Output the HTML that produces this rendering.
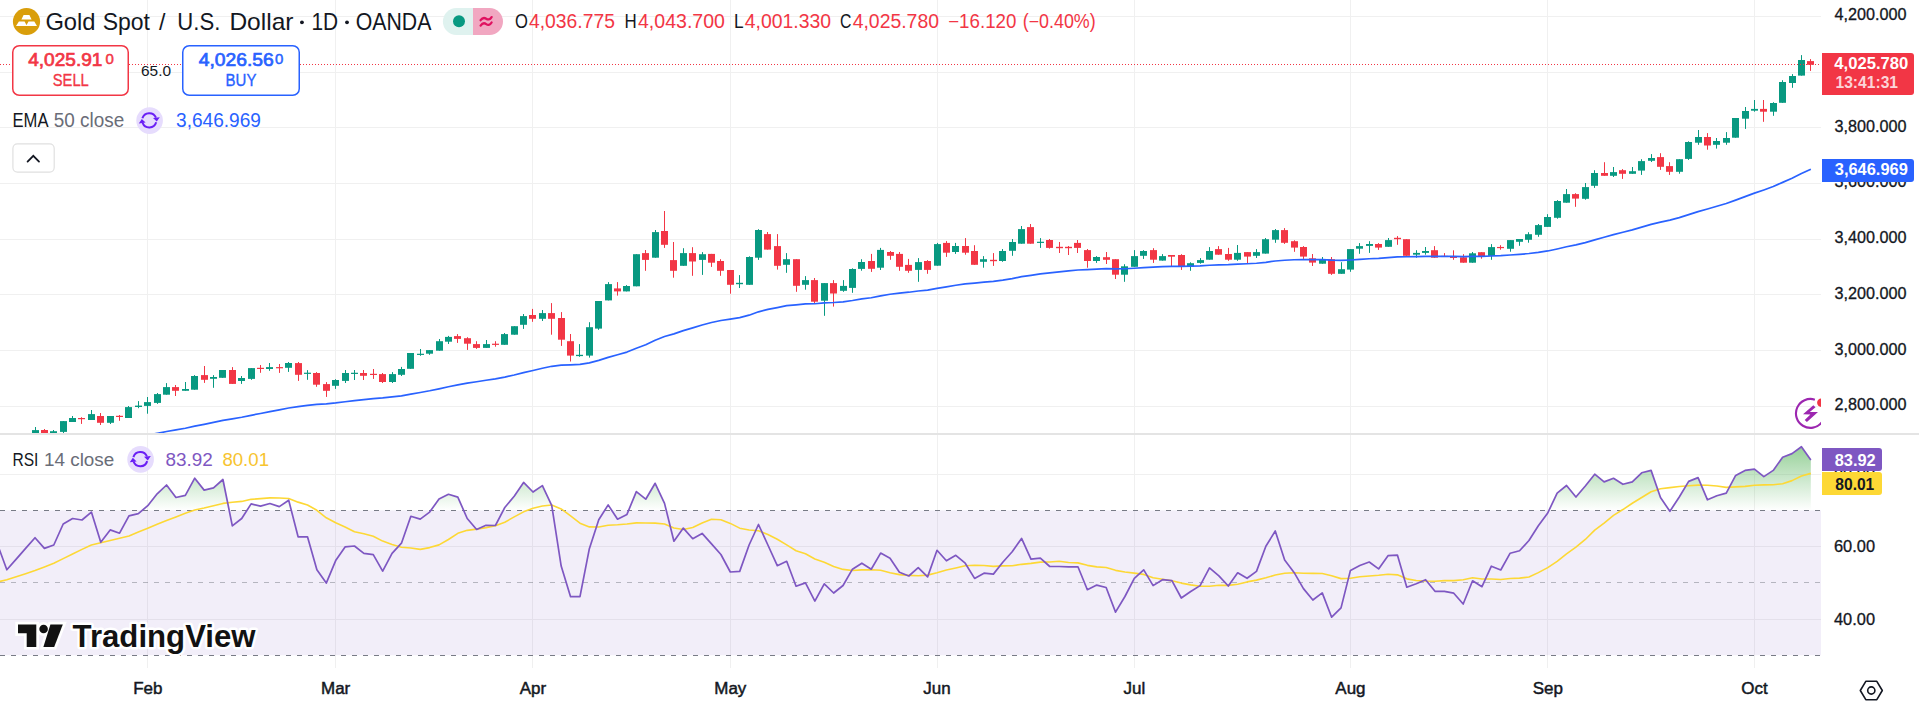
<!DOCTYPE html>
<html><head><meta charset="utf-8"><style>
html,body{margin:0;padding:0;background:#ffffff;width:1919px;height:710px;overflow:hidden}
svg{display:block}
text{font-family:"Liberation Sans",sans-serif}
</style></head><body>
<svg width="1919" height="710" viewBox="0 0 1919 710">
<rect width="1919" height="710" fill="#ffffff"/>
<g fill="#f0f0f0">
<rect x="0" y="16" width="1821" height="1"/>
<rect x="0" y="72" width="1821" height="1"/>
<rect x="0" y="127" width="1821" height="1"/>
<rect x="0" y="183" width="1821" height="1"/>
<rect x="0" y="239" width="1821" height="1"/>
<rect x="0" y="294" width="1821" height="1"/>
<rect x="0" y="350" width="1821" height="1"/>
<rect x="0" y="406" width="1821" height="1"/>
<rect x="0" y="474" width="1821" height="1"/>
<rect x="0" y="546" width="1821" height="1"/>
<rect x="0" y="619" width="1821" height="1"/>
<rect x="147" y="0" width="1" height="668"/>
<rect x="335" y="0" width="1" height="668"/>
<rect x="532" y="0" width="1" height="668"/>
<rect x="730" y="0" width="1" height="668"/>
<rect x="937" y="0" width="1" height="668"/>
<rect x="1134" y="0" width="1" height="668"/>
<rect x="1350" y="0" width="1" height="668"/>
<rect x="1547" y="0" width="1" height="668"/>
<rect x="1754" y="0" width="1" height="668"/>
</g>
<rect x="0" y="510.4" width="1821" height="144.8" fill="rgba(126,87,194,0.1)"/>
<defs><linearGradient id="ob" gradientUnits="userSpaceOnUse" x1="0" y1="401.8" x2="0" y2="510.4"><stop offset="0" stop-color="#4caf50" stop-opacity="1"/><stop offset="1" stop-color="#4caf50" stop-opacity="0"/></linearGradient>
<clipPath id="obclip"><rect x="0" y="434" width="1821" height="76.4"/></clipPath>
<clipPath id="rsiclip"><rect x="0" y="434" width="1821" height="234"/></clipPath>
<clipPath id="mainclip"><rect x="0" y="0" width="1821" height="433"/></clipPath></defs>
<g clip-path="url(#obclip)"><polygon points="-2.57,510.4 -2.57,544.1 6.82,569.8 16.22,559.1 25.61,548.4 35.01,537.7 44.41,548.4 53.8,545 63.2,524 72.59,518.5 81.99,520 91.39,512.1 100.78,542.3 110.18,529.9 119.57,533.2 128.97,515.8 138.36,513.6 147.76,505.7 157.16,493.8 166.55,485 175.95,497.5 185.34,495.3 194.74,478.2 204.14,490.1 213.53,487.9 222.93,479.5 232.32,525.8 241.72,518.5 251.11,503.9 260.51,506.1 269.91,503.5 279.3,506.6 288.7,500.2 298.09,536.8 307.49,536.8 316.89,569.8 326.28,583.1 335.68,560.6 345.07,546.9 354.47,546 363.86,553.3 373.26,554.6 382.66,571.2 392.05,553.3 401.45,543.2 410.84,516.3 420.24,519.1 429.64,512.1 439.03,498.9 448.43,494.3 457.82,497.1 467.22,518.5 476.61,529.5 486.01,525.3 495.41,525.5 504.8,507.5 514.2,496.2 523.59,482.4 532.99,492 542.39,485.6 551.78,505.7 561.18,566.1 570.57,596.7 579.97,596.7 589.36,548.7 598.76,519.8 608.16,504.9 617.55,519.2 626.95,514.4 636.34,491.6 645.74,499.2 655.14,483.3 664.53,503.4 673.93,541.2 683.32,528.1 692.72,538.7 702.11,533.4 711.51,543.9 720.91,554.5 730.3,572 739.7,571.4 749.09,545 758.49,524.5 767.89,545 777.28,565.7 786.68,561.3 796.07,586.2 805.47,582.9 814.86,601.1 824.26,583.8 833.66,593 843.05,585.5 852.45,569.2 861.84,563.2 871.24,569.2 880.64,553.1 890.03,558.2 899.43,572.3 908.82,576 918.22,567.7 927.61,576.9 937.01,550.3 946.41,560.8 955.8,555.3 965.2,563.2 974.59,578.4 983.99,573.2 993.39,574.1 1002.78,562.2 1012.18,551.8 1021.57,538.4 1030.97,559.1 1040.36,558.2 1049.76,566.5 1059.16,566.5 1068.55,566.8 1077.95,566.8 1087.34,589.7 1096.74,585.1 1106.14,587.5 1115.53,612.1 1124.93,596.5 1134.32,578.3 1143.72,569.9 1153.11,585.6 1162.51,579.7 1171.91,580.7 1181.3,598 1190.7,591.5 1200.09,585.6 1209.49,567.9 1218.89,575.8 1228.28,586 1237.68,572.8 1247.07,578.3 1256.47,571.4 1265.86,546.2 1275.26,531 1284.66,560 1294.05,572.4 1303.45,588.6 1312.84,600 1322.24,592.9 1331.64,617.2 1341.03,607.9 1350.43,570.4 1359.82,565.5 1369.22,562 1378.61,568.9 1388.01,555.7 1397.41,555.1 1406.8,587.2 1416.2,583.7 1425.59,579.7 1434.99,591.3 1444.39,591.3 1453.78,593.2 1463.18,604 1472.57,580.8 1481.97,586.7 1491.36,566.2 1500.76,570 1510.16,553.2 1519.55,550.8 1528.95,540.5 1538.34,525.7 1547.74,513 1557.14,493.1 1566.53,485.5 1575.93,497 1585.32,486 1594.72,474.2 1604.11,481.9 1613.51,478.3 1622.91,484.3 1632.3,481.9 1641.7,472.8 1651.09,470.4 1660.49,497.5 1669.89,511.3 1679.28,497 1688.68,481.4 1698.07,477.6 1707.47,499.8 1716.86,495.8 1726.26,493.1 1735.66,475.4 1745.05,470.4 1754.45,469.2 1763.84,476.6 1773.24,470.4 1782.64,457.2 1792.03,453.6 1801.43,446.7 1810.82,459.9 1810.82,510.4" fill="url(#ob)"/></g>
<g clip-path="url(#rsiclip)">
<line x1="0" y1="510.5" x2="1821" y2="510.5" stroke="#787b86" stroke-width="1" stroke-dasharray="5 6"/>
<line x1="0" y1="582.5" x2="1821" y2="582.5" stroke="rgba(120,123,134,0.5)" stroke-width="1" stroke-dasharray="5 6"/>
<line x1="0" y1="655.5" x2="1821" y2="655.5" stroke="#787b86" stroke-width="1" stroke-dasharray="5 6"/>
<polyline points="-2.57,582 6.82,579.79 16.22,576.74 25.61,573.69 35.01,570.58 44.41,566.91 53.8,563.24 63.2,558.6 72.59,553.96 81.99,549.38 91.39,545.05 100.78,542.75 110.18,540.47 119.57,538.19 128.97,535.91 138.36,532 147.76,528.19 157.16,524.29 166.55,520.52 175.95,516.89 185.34,513.34 194.74,510.06 204.14,508.04 213.53,505.74 222.93,503.41 232.32,502.24 241.72,501.42 251.11,499.33 260.51,498.64 269.91,497.91 279.3,497.98 288.7,498.44 298.09,502.14 307.49,504.94 316.89,510.26 326.28,517.76 335.68,522.79 345.07,527.01 354.47,531.76 363.86,533.72 373.26,536.3 382.66,541.11 392.05,544.48 401.45,547.31 410.84,548.01 420.24,549.36 429.64,547.59 439.03,544.89 448.43,539.49 457.82,533.35 467.22,530.34 476.61,529.1 486.01,527.62 495.41,525.64 504.8,522.27 514.2,516.91 523.59,511.85 532.99,508.19 542.39,506 551.78,505.04 561.18,508.9 570.57,515.89 579.97,523.2 589.36,526.89 598.76,526.98 608.16,525.22 617.55,524.79 626.95,523.99 636.34,522.86 645.74,523.07 655.14,523.14 664.53,523.95 673.93,527.92 683.32,529.52 692.72,527.56 702.11,523.04 711.51,519.27 720.91,519.69 730.3,523.41 739.7,528.16 749.09,530.01 758.49,530.73 767.89,534.54 777.28,539.29 786.68,544.86 796.07,550.78 805.47,553.76 814.86,558.97 824.26,562.19 833.66,566.45 843.05,569.42 852.45,570.47 861.84,569.84 871.24,569.69 880.64,570.26 890.03,572.67 899.43,574.62 908.82,575.36 918.22,575.81 927.61,575.15 937.01,572.82 946.41,569.94 955.8,567.91 965.2,565.78 974.59,565.27 983.99,565.56 993.39,566.34 1002.78,565.84 1012.18,565.74 1021.57,564.33 1030.97,563.39 1040.36,562.11 1049.76,562.03 1059.16,561.29 1068.55,562.46 1077.95,562.89 1087.34,565.35 1096.74,566.91 1106.14,567.56 1115.53,570.34 1124.93,571.94 1134.32,573.09 1143.72,574.39 1153.11,577.76 1162.51,579.23 1171.91,580.84 1181.3,583.09 1190.7,584.87 1200.09,586.21 1209.49,586.29 1218.89,585.3 1228.28,585.36 1237.68,584.31 1247.07,581.9 1256.47,580.11 1265.86,577.81 1275.26,575.04 1284.66,573.21 1294.05,572.69 1303.45,573.25 1312.84,573.39 1322.24,573.49 1331.64,575.75 1341.03,578.61 1350.43,578.22 1359.82,576.76 1369.22,575.99 1378.61,575.31 1388.01,574.19 1397.41,574.83 1406.8,578.84 1416.2,580.54 1425.59,581.06 1434.99,581.25 1444.39,580.63 1453.78,580.65 1463.18,579.71 1472.57,577.77 1481.97,578.94 1491.36,578.99 1500.76,579.56 1510.16,578.44 1519.55,578.09 1528.95,577.04 1538.34,572.65 1547.74,567.6 1557.14,561.41 1566.53,553.86 1575.93,547.12 1585.32,539.46 1594.72,530.19 1604.11,523.13 1613.51,515.39 1622.91,509.54 1632.3,503.24 1641.7,497.5 1651.09,491.76 1660.49,488.69 1669.89,487.66 1679.28,486.51 1688.68,485.68 1698.07,485.11 1707.47,485.31 1716.86,486.01 1726.26,487.36 1735.66,486.9 1745.05,486.34 1754.45,485.26 1763.84,484.88 1773.24,484.71 1782.64,483.76 1792.03,480.63 1801.43,476.01 1810.82,473.36" fill="none" stroke="#fdd835" stroke-width="1.6" stroke-linejoin="round"/>
<polyline points="-2.57,544.1 6.82,569.8 16.22,559.1 25.61,548.4 35.01,537.7 44.41,548.4 53.8,545 63.2,524 72.59,518.5 81.99,520 91.39,512.1 100.78,542.3 110.18,529.9 119.57,533.2 128.97,515.8 138.36,513.6 147.76,505.7 157.16,493.8 166.55,485 175.95,497.5 185.34,495.3 194.74,478.2 204.14,490.1 213.53,487.9 222.93,479.5 232.32,525.8 241.72,518.5 251.11,503.9 260.51,506.1 269.91,503.5 279.3,506.6 288.7,500.2 298.09,536.8 307.49,536.8 316.89,569.8 326.28,583.1 335.68,560.6 345.07,546.9 354.47,546 363.86,553.3 373.26,554.6 382.66,571.2 392.05,553.3 401.45,543.2 410.84,516.3 420.24,519.1 429.64,512.1 439.03,498.9 448.43,494.3 457.82,497.1 467.22,518.5 476.61,529.5 486.01,525.3 495.41,525.5 504.8,507.5 514.2,496.2 523.59,482.4 532.99,492 542.39,485.6 551.78,505.7 561.18,566.1 570.57,596.7 579.97,596.7 589.36,548.7 598.76,519.8 608.16,504.9 617.55,519.2 626.95,514.4 636.34,491.6 645.74,499.2 655.14,483.3 664.53,503.4 673.93,541.2 683.32,528.1 692.72,538.7 702.11,533.4 711.51,543.9 720.91,554.5 730.3,572 739.7,571.4 749.09,545 758.49,524.5 767.89,545 777.28,565.7 786.68,561.3 796.07,586.2 805.47,582.9 814.86,601.1 824.26,583.8 833.66,593 843.05,585.5 852.45,569.2 861.84,563.2 871.24,569.2 880.64,553.1 890.03,558.2 899.43,572.3 908.82,576 918.22,567.7 927.61,576.9 937.01,550.3 946.41,560.8 955.8,555.3 965.2,563.2 974.59,578.4 983.99,573.2 993.39,574.1 1002.78,562.2 1012.18,551.8 1021.57,538.4 1030.97,559.1 1040.36,558.2 1049.76,566.5 1059.16,566.5 1068.55,566.8 1077.95,566.8 1087.34,589.7 1096.74,585.1 1106.14,587.5 1115.53,612.1 1124.93,596.5 1134.32,578.3 1143.72,569.9 1153.11,585.6 1162.51,579.7 1171.91,580.7 1181.3,598 1190.7,591.5 1200.09,585.6 1209.49,567.9 1218.89,575.8 1228.28,586 1237.68,572.8 1247.07,578.3 1256.47,571.4 1265.86,546.2 1275.26,531 1284.66,560 1294.05,572.4 1303.45,588.6 1312.84,600 1322.24,592.9 1331.64,617.2 1341.03,607.9 1350.43,570.4 1359.82,565.5 1369.22,562 1378.61,568.9 1388.01,555.7 1397.41,555.1 1406.8,587.2 1416.2,583.7 1425.59,579.7 1434.99,591.3 1444.39,591.3 1453.78,593.2 1463.18,604 1472.57,580.8 1481.97,586.7 1491.36,566.2 1500.76,570 1510.16,553.2 1519.55,550.8 1528.95,540.5 1538.34,525.7 1547.74,513 1557.14,493.1 1566.53,485.5 1575.93,497 1585.32,486 1594.72,474.2 1604.11,481.9 1613.51,478.3 1622.91,484.3 1632.3,481.9 1641.7,472.8 1651.09,470.4 1660.49,497.5 1669.89,511.3 1679.28,497 1688.68,481.4 1698.07,477.6 1707.47,499.8 1716.86,495.8 1726.26,493.1 1735.66,475.4 1745.05,470.4 1754.45,469.2 1763.84,476.6 1773.24,470.4 1782.64,457.2 1792.03,453.6 1801.43,446.7 1810.82,459.9" fill="none" stroke="#7e57c2" stroke-width="1.7" stroke-linejoin="round"/>
</g>
<g clip-path="url(#mainclip)">
<rect x="35" y="427" width="1" height="11" fill="#089981"/>
<rect x="32" y="430.1" width="7" height="5.9" fill="#089981"/>
<rect x="44" y="429" width="1" height="7" fill="#f23645"/>
<rect x="41" y="430" width="7" height="3.3" fill="#f23645"/>
<rect x="53" y="430" width="1" height="6" fill="#089981"/>
<rect x="50" y="431.2" width="7" height="2.8" fill="#089981"/>
<rect x="63" y="421" width="1" height="12" fill="#089981"/>
<rect x="60" y="421.1" width="7" height="10.8" fill="#089981"/>
<rect x="72" y="416" width="1" height="6" fill="#089981"/>
<rect x="69" y="418" width="7" height="4" fill="#089981"/>
<rect x="81" y="417.2" width="1" height="6.7" fill="#f23645"/>
<rect x="78" y="418" width="7" height="1.2" fill="#f23645"/>
<rect x="91" y="410" width="1" height="10" fill="#089981"/>
<rect x="88" y="414.1" width="7" height="5.9" fill="#089981"/>
<rect x="100" y="413" width="1" height="12" fill="#f23645"/>
<rect x="97" y="416" width="7" height="6.8" fill="#f23645"/>
<rect x="110" y="416" width="1" height="8" fill="#089981"/>
<rect x="107" y="416" width="7" height="6.8" fill="#089981"/>
<rect x="119" y="415" width="1" height="5.8" fill="#f23645"/>
<rect x="116" y="415.8" width="7" height="1.2" fill="#f23645"/>
<rect x="128" y="406" width="1" height="12" fill="#089981"/>
<rect x="125" y="407.1" width="7" height="10.9" fill="#089981"/>
<rect x="138" y="401.1" width="1" height="7.1" fill="#089981"/>
<rect x="135" y="405.6" width="7" height="1.4" fill="#089981"/>
<rect x="147" y="397" width="1" height="16.7" fill="#089981"/>
<rect x="144" y="402.1" width="7" height="3.8" fill="#089981"/>
<rect x="157" y="393" width="1" height="10.9" fill="#089981"/>
<rect x="154" y="394.1" width="7" height="8.8" fill="#089981"/>
<rect x="166" y="383.1" width="1" height="11.6" fill="#089981"/>
<rect x="163" y="387.1" width="7" height="7.6" fill="#089981"/>
<rect x="175" y="385" width="1" height="11" fill="#f23645"/>
<rect x="172" y="387.1" width="7" height="3.7" fill="#f23645"/>
<rect x="185" y="382" width="1" height="8.8" fill="#089981"/>
<rect x="182" y="389" width="7" height="1.8" fill="#089981"/>
<rect x="194" y="375.1" width="1" height="14.6" fill="#089981"/>
<rect x="191" y="376" width="7" height="13.7" fill="#089981"/>
<rect x="204" y="366" width="1" height="16.9" fill="#f23645"/>
<rect x="201" y="375.1" width="7" height="4.7" fill="#f23645"/>
<rect x="213" y="375.1" width="1" height="12.7" fill="#089981"/>
<rect x="210" y="377" width="7" height="1.8" fill="#089981"/>
<rect x="222" y="370" width="1" height="7.8" fill="#089981"/>
<rect x="219" y="370" width="7" height="7.8" fill="#089981"/>
<rect x="232" y="367.1" width="1" height="16.8" fill="#f23645"/>
<rect x="229" y="370" width="7" height="13.9" fill="#f23645"/>
<rect x="241" y="376" width="1" height="7.9" fill="#089981"/>
<rect x="238" y="378" width="7" height="3" fill="#089981"/>
<rect x="251" y="368.1" width="1" height="11.7" fill="#089981"/>
<rect x="248" y="368.1" width="7" height="10.8" fill="#089981"/>
<rect x="260" y="365" width="1" height="7.8" fill="#f23645"/>
<rect x="257" y="367.8" width="7" height="1.2" fill="#f23645"/>
<rect x="269" y="363" width="1" height="7.8" fill="#089981"/>
<rect x="266" y="367.1" width="7" height="1.9" fill="#089981"/>
<rect x="279" y="364" width="1" height="8.9" fill="#f23645"/>
<rect x="276" y="367.1" width="7" height="1.2" fill="#f23645"/>
<rect x="288" y="362" width="1" height="9.9" fill="#089981"/>
<rect x="285" y="363" width="7" height="4.8" fill="#089981"/>
<rect x="298" y="362" width="1" height="18.9" fill="#f23645"/>
<rect x="295" y="363.1" width="7" height="11.7" fill="#f23645"/>
<rect x="307" y="370.1" width="1" height="9.7" fill="#089981"/>
<rect x="304" y="372.7" width="7" height="1.2" fill="#089981"/>
<rect x="316" y="372.1" width="1" height="14.7" fill="#f23645"/>
<rect x="313" y="373" width="7" height="11.7" fill="#f23645"/>
<rect x="326" y="382.1" width="1" height="14.8" fill="#f23645"/>
<rect x="323" y="384.1" width="7" height="6.7" fill="#f23645"/>
<rect x="335" y="379.2" width="1" height="9.7" fill="#089981"/>
<rect x="332" y="380" width="7" height="5.8" fill="#089981"/>
<rect x="345" y="370" width="1" height="13" fill="#089981"/>
<rect x="342" y="373" width="7" height="7.9" fill="#089981"/>
<rect x="354" y="370" width="1" height="10" fill="#089981"/>
<rect x="351" y="372.75" width="7" height="1.2" fill="#089981"/>
<rect x="363" y="370" width="1" height="10" fill="#f23645"/>
<rect x="360" y="373" width="7" height="2.8" fill="#f23645"/>
<rect x="373" y="369" width="1" height="9.9" fill="#f23645"/>
<rect x="370" y="373.8" width="7" height="1.2" fill="#f23645"/>
<rect x="382" y="373" width="1" height="10" fill="#f23645"/>
<rect x="379" y="374.1" width="7" height="7.9" fill="#f23645"/>
<rect x="392" y="372.1" width="1" height="10.9" fill="#089981"/>
<rect x="389" y="374.1" width="7" height="7.9" fill="#089981"/>
<rect x="401" y="366.9" width="1" height="9.1" fill="#089981"/>
<rect x="398" y="369" width="7" height="5.8" fill="#089981"/>
<rect x="410" y="353" width="1" height="15.8" fill="#089981"/>
<rect x="407" y="353" width="7" height="15.8" fill="#089981"/>
<rect x="420" y="349" width="1" height="6.8" fill="#089981"/>
<rect x="417" y="353.75" width="7" height="1.2" fill="#089981"/>
<rect x="429" y="350.1" width="1" height="4.7" fill="#089981"/>
<rect x="426" y="350.1" width="7" height="3.6" fill="#089981"/>
<rect x="439" y="339" width="1" height="11.7" fill="#089981"/>
<rect x="436" y="341.2" width="7" height="9.5" fill="#089981"/>
<rect x="448" y="335.9" width="1" height="8.1" fill="#089981"/>
<rect x="445" y="336.9" width="7" height="4.8" fill="#089981"/>
<rect x="457" y="334.1" width="1" height="8.8" fill="#f23645"/>
<rect x="454" y="336.1" width="7" height="2.8" fill="#f23645"/>
<rect x="467" y="337.2" width="1" height="12.7" fill="#f23645"/>
<rect x="464" y="338.2" width="7" height="5.5" fill="#f23645"/>
<rect x="476" y="341.2" width="1" height="7.7" fill="#f23645"/>
<rect x="473" y="344.1" width="7" height="3.8" fill="#f23645"/>
<rect x="486" y="340" width="1" height="7.9" fill="#089981"/>
<rect x="483" y="344.1" width="7" height="3.8" fill="#089981"/>
<rect x="495" y="341.2" width="1" height="5.5" fill="#f23645"/>
<rect x="492" y="343.7" width="7" height="1.2" fill="#f23645"/>
<rect x="504" y="333" width="1" height="11.8" fill="#089981"/>
<rect x="501" y="334.1" width="7" height="10.7" fill="#089981"/>
<rect x="514" y="326.2" width="1" height="8.5" fill="#089981"/>
<rect x="511" y="326.2" width="7" height="8.5" fill="#089981"/>
<rect x="523" y="314" width="1" height="14.9" fill="#089981"/>
<rect x="520" y="316.1" width="7" height="8.7" fill="#089981"/>
<rect x="532" y="308.9" width="1" height="12.9" fill="#f23645"/>
<rect x="529" y="315" width="7" height="3.8" fill="#f23645"/>
<rect x="542" y="310" width="1" height="11" fill="#089981"/>
<rect x="539" y="313.1" width="7" height="5.7" fill="#089981"/>
<rect x="551" y="303.1" width="1" height="31.6" fill="#f23645"/>
<rect x="548" y="313.1" width="7" height="5.7" fill="#f23645"/>
<rect x="561" y="312.1" width="1" height="33.8" fill="#f23645"/>
<rect x="558" y="318" width="7" height="21.7" fill="#f23645"/>
<rect x="570" y="334" width="1" height="27.5" fill="#f23645"/>
<rect x="567" y="341.2" width="7" height="14.4" fill="#f23645"/>
<rect x="579" y="344.1" width="1" height="12.7" fill="#089981"/>
<rect x="576" y="354.8" width="7" height="1.3" fill="#089981"/>
<rect x="589" y="322.2" width="1" height="35.4" fill="#089981"/>
<rect x="586" y="327.2" width="7" height="28.4" fill="#089981"/>
<rect x="598" y="301" width="1" height="28.8" fill="#089981"/>
<rect x="595" y="301" width="7" height="27.6" fill="#089981"/>
<rect x="608" y="282.1" width="1" height="18.3" fill="#089981"/>
<rect x="605" y="284.1" width="7" height="16.3" fill="#089981"/>
<rect x="617" y="282.1" width="1" height="13.5" fill="#f23645"/>
<rect x="614" y="288.4" width="7" height="3" fill="#f23645"/>
<rect x="626" y="285.1" width="1" height="6.3" fill="#089981"/>
<rect x="623" y="286" width="7" height="5.4" fill="#089981"/>
<rect x="636" y="254.2" width="1" height="32.1" fill="#089981"/>
<rect x="633" y="254.2" width="7" height="32.1" fill="#089981"/>
<rect x="645" y="250" width="1" height="20.8" fill="#f23645"/>
<rect x="642" y="253.1" width="7" height="6.8" fill="#f23645"/>
<rect x="655" y="230" width="1" height="27.7" fill="#089981"/>
<rect x="652" y="232.1" width="7" height="25.6" fill="#089981"/>
<rect x="664" y="211" width="1" height="36.9" fill="#f23645"/>
<rect x="661" y="231" width="7" height="13.8" fill="#f23645"/>
<rect x="673" y="242" width="1" height="35.7" fill="#f23645"/>
<rect x="670" y="260.1" width="7" height="10.7" fill="#f23645"/>
<rect x="683" y="248.2" width="1" height="17.6" fill="#089981"/>
<rect x="680" y="253.1" width="7" height="12.7" fill="#089981"/>
<rect x="692" y="247.2" width="1" height="28.6" fill="#f23645"/>
<rect x="689" y="253.1" width="7" height="8.4" fill="#f23645"/>
<rect x="702" y="252.1" width="1" height="22.8" fill="#089981"/>
<rect x="699" y="254.2" width="7" height="5.7" fill="#089981"/>
<rect x="711" y="253.9" width="1" height="13" fill="#f23645"/>
<rect x="708" y="253.9" width="7" height="8.8" fill="#f23645"/>
<rect x="720" y="259.2" width="1" height="16.6" fill="#f23645"/>
<rect x="717" y="261" width="7" height="9.8" fill="#f23645"/>
<rect x="730" y="270" width="1" height="23.7" fill="#f23645"/>
<rect x="727" y="270" width="7" height="14.8" fill="#f23645"/>
<rect x="739" y="275.1" width="1" height="12.9" fill="#089981"/>
<rect x="736" y="282.8" width="7" height="1.4" fill="#089981"/>
<rect x="749" y="256.3" width="1" height="28.5" fill="#089981"/>
<rect x="746" y="257" width="7" height="27.8" fill="#089981"/>
<rect x="758" y="229.2" width="1" height="30.7" fill="#089981"/>
<rect x="755" y="230" width="7" height="27.7" fill="#089981"/>
<rect x="767" y="232" width="1" height="17.6" fill="#f23645"/>
<rect x="764" y="234.1" width="7" height="15.5" fill="#f23645"/>
<rect x="777" y="234.1" width="1" height="35.5" fill="#f23645"/>
<rect x="774" y="246.1" width="7" height="19.7" fill="#f23645"/>
<rect x="786" y="253.1" width="1" height="19.7" fill="#089981"/>
<rect x="783" y="259.2" width="7" height="5.6" fill="#089981"/>
<rect x="796" y="259.2" width="1" height="32.6" fill="#f23645"/>
<rect x="793" y="259.2" width="7" height="26.6" fill="#f23645"/>
<rect x="805" y="276.1" width="1" height="13.6" fill="#089981"/>
<rect x="802" y="280.1" width="7" height="4.7" fill="#089981"/>
<rect x="814" y="278" width="1" height="25.1" fill="#f23645"/>
<rect x="811" y="280.1" width="7" height="21.6" fill="#f23645"/>
<rect x="824" y="283.1" width="1" height="32.7" fill="#089981"/>
<rect x="821" y="283.1" width="7" height="17.6" fill="#089981"/>
<rect x="833" y="280.1" width="1" height="26.5" fill="#f23645"/>
<rect x="830" y="283.1" width="7" height="10.4" fill="#f23645"/>
<rect x="843" y="280.1" width="1" height="11.7" fill="#089981"/>
<rect x="840" y="285.9" width="7" height="4.9" fill="#089981"/>
<rect x="852" y="268.3" width="1" height="24.5" fill="#089981"/>
<rect x="849" y="269" width="7" height="18.9" fill="#089981"/>
<rect x="861" y="259.2" width="1" height="11.5" fill="#089981"/>
<rect x="858" y="262" width="7" height="6.9" fill="#089981"/>
<rect x="871" y="253.9" width="1" height="18" fill="#f23645"/>
<rect x="868" y="261" width="7" height="7.8" fill="#f23645"/>
<rect x="880" y="247.9" width="1" height="22.1" fill="#089981"/>
<rect x="877" y="249.9" width="7" height="17.8" fill="#089981"/>
<rect x="890" y="251" width="1" height="8.8" fill="#f23645"/>
<rect x="887" y="252" width="7" height="3.8" fill="#f23645"/>
<rect x="899" y="252" width="1" height="18.8" fill="#f23645"/>
<rect x="896" y="253.9" width="7" height="12.9" fill="#f23645"/>
<rect x="908" y="258.9" width="1" height="13.9" fill="#f23645"/>
<rect x="905" y="264.9" width="7" height="5.9" fill="#f23645"/>
<rect x="918" y="258.1" width="1" height="23.7" fill="#089981"/>
<rect x="915" y="262.1" width="7" height="7.8" fill="#089981"/>
<rect x="927" y="260.1" width="1" height="13.7" fill="#f23645"/>
<rect x="924" y="261" width="7" height="8.9" fill="#f23645"/>
<rect x="937" y="242.9" width="1" height="22.8" fill="#089981"/>
<rect x="934" y="244.1" width="7" height="21.6" fill="#089981"/>
<rect x="946" y="241.1" width="1" height="15.8" fill="#f23645"/>
<rect x="943" y="242.9" width="7" height="9.8" fill="#f23645"/>
<rect x="955" y="242.9" width="1" height="11" fill="#089981"/>
<rect x="952" y="246" width="7" height="6" fill="#089981"/>
<rect x="965" y="238.1" width="1" height="16.6" fill="#f23645"/>
<rect x="962" y="246" width="7" height="6.7" fill="#f23645"/>
<rect x="974" y="245.2" width="1" height="19.6" fill="#f23645"/>
<rect x="971" y="251" width="7" height="13.8" fill="#f23645"/>
<rect x="983" y="256.1" width="1" height="11.6" fill="#089981"/>
<rect x="980" y="259.2" width="7" height="2.6" fill="#089981"/>
<rect x="993" y="253.1" width="1" height="12.8" fill="#f23645"/>
<rect x="990" y="259.8" width="7" height="1.4" fill="#f23645"/>
<rect x="1002" y="249" width="1" height="12.8" fill="#089981"/>
<rect x="999" y="251" width="7" height="10" fill="#089981"/>
<rect x="1012" y="239" width="1" height="16.8" fill="#089981"/>
<rect x="1009" y="242" width="7" height="8.8" fill="#089981"/>
<rect x="1021" y="226" width="1" height="17.7" fill="#089981"/>
<rect x="1018" y="229.1" width="7" height="14.6" fill="#089981"/>
<rect x="1030" y="224" width="1" height="19.7" fill="#f23645"/>
<rect x="1027" y="227.1" width="7" height="16.6" fill="#f23645"/>
<rect x="1040" y="238.1" width="1" height="9.8" fill="#089981"/>
<rect x="1037" y="241.75" width="7" height="1.2" fill="#089981"/>
<rect x="1049" y="239" width="1" height="9.6" fill="#f23645"/>
<rect x="1046" y="240" width="7" height="7.9" fill="#f23645"/>
<rect x="1059" y="242" width="1" height="11" fill="#f23645"/>
<rect x="1056" y="246.8" width="7" height="1.4" fill="#f23645"/>
<rect x="1068" y="246" width="1" height="9" fill="#f23645"/>
<rect x="1065" y="246.8" width="7" height="1.4" fill="#f23645"/>
<rect x="1077" y="240" width="1" height="13" fill="#f23645"/>
<rect x="1074" y="242.9" width="7" height="5" fill="#f23645"/>
<rect x="1087" y="249" width="1" height="18.7" fill="#f23645"/>
<rect x="1084" y="250.1" width="7" height="10.9" fill="#f23645"/>
<rect x="1096" y="256.1" width="1" height="6.8" fill="#089981"/>
<rect x="1093" y="257" width="7" height="4" fill="#089981"/>
<rect x="1106" y="252" width="1" height="12" fill="#f23645"/>
<rect x="1103" y="257.2" width="7" height="2.6" fill="#f23645"/>
<rect x="1115" y="259.2" width="1" height="19.8" fill="#f23645"/>
<rect x="1112" y="259.2" width="7" height="15.5" fill="#f23645"/>
<rect x="1124" y="264.2" width="1" height="17.6" fill="#089981"/>
<rect x="1121" y="266.3" width="7" height="8.4" fill="#089981"/>
<rect x="1134" y="250.1" width="1" height="16.7" fill="#089981"/>
<rect x="1131" y="256.1" width="7" height="10.7" fill="#089981"/>
<rect x="1143" y="250.1" width="1" height="8.8" fill="#089981"/>
<rect x="1140" y="251" width="7" height="4.8" fill="#089981"/>
<rect x="1153" y="248.2" width="1" height="14.7" fill="#f23645"/>
<rect x="1150" y="250.1" width="7" height="9.6" fill="#f23645"/>
<rect x="1162" y="254.1" width="1" height="6.5" fill="#089981"/>
<rect x="1159" y="256.1" width="7" height="4.5" fill="#089981"/>
<rect x="1171" y="255" width="1" height="11.8" fill="#f23645"/>
<rect x="1168" y="255" width="7" height="1.7" fill="#f23645"/>
<rect x="1181" y="254.2" width="1" height="15.7" fill="#f23645"/>
<rect x="1178" y="255" width="7" height="11.8" fill="#f23645"/>
<rect x="1190" y="262.3" width="1" height="8.5" fill="#089981"/>
<rect x="1187" y="263.2" width="7" height="3.6" fill="#089981"/>
<rect x="1200" y="258.1" width="1" height="5.6" fill="#089981"/>
<rect x="1197" y="260.1" width="7" height="2.8" fill="#089981"/>
<rect x="1209" y="247.1" width="1" height="12.6" fill="#089981"/>
<rect x="1206" y="251" width="7" height="8.7" fill="#089981"/>
<rect x="1218" y="246.1" width="1" height="8.6" fill="#f23645"/>
<rect x="1215" y="249.1" width="7" height="5.6" fill="#f23645"/>
<rect x="1228" y="247.9" width="1" height="12.9" fill="#f23645"/>
<rect x="1225" y="254" width="7" height="5.7" fill="#f23645"/>
<rect x="1237" y="245" width="1" height="15.8" fill="#089981"/>
<rect x="1234" y="252.9" width="7" height="6.8" fill="#089981"/>
<rect x="1247" y="252.1" width="1" height="11.6" fill="#f23645"/>
<rect x="1244" y="252.1" width="7" height="4.5" fill="#f23645"/>
<rect x="1256" y="249.1" width="1" height="8.9" fill="#089981"/>
<rect x="1253" y="252.1" width="7" height="3.7" fill="#089981"/>
<rect x="1265" y="238" width="1" height="15.6" fill="#089981"/>
<rect x="1262" y="239.2" width="7" height="14.4" fill="#089981"/>
<rect x="1275" y="229" width="1" height="13.8" fill="#089981"/>
<rect x="1272" y="230.1" width="7" height="9.6" fill="#089981"/>
<rect x="1284" y="228.1" width="1" height="15.8" fill="#f23645"/>
<rect x="1281" y="230.1" width="7" height="12.7" fill="#f23645"/>
<rect x="1294" y="240.3" width="1" height="11.5" fill="#f23645"/>
<rect x="1291" y="241.2" width="7" height="6.4" fill="#f23645"/>
<rect x="1303" y="246.1" width="1" height="12.8" fill="#f23645"/>
<rect x="1300" y="247" width="7" height="9.6" fill="#f23645"/>
<rect x="1312" y="254" width="1" height="12" fill="#f23645"/>
<rect x="1309" y="258.3" width="7" height="4.3" fill="#f23645"/>
<rect x="1322" y="257" width="1" height="6.7" fill="#089981"/>
<rect x="1319" y="259.2" width="7" height="4.5" fill="#089981"/>
<rect x="1331" y="257" width="1" height="17.9" fill="#f23645"/>
<rect x="1328" y="259.2" width="7" height="14.6" fill="#f23645"/>
<rect x="1341" y="262.2" width="1" height="11.6" fill="#089981"/>
<rect x="1338" y="269.2" width="7" height="4.6" fill="#089981"/>
<rect x="1350" y="249.1" width="1" height="22.7" fill="#089981"/>
<rect x="1347" y="249.1" width="7" height="20.5" fill="#089981"/>
<rect x="1359" y="243.1" width="1" height="10.7" fill="#089981"/>
<rect x="1356" y="246.1" width="7" height="2.6" fill="#089981"/>
<rect x="1369" y="241.2" width="1" height="11.7" fill="#089981"/>
<rect x="1366" y="244" width="7" height="1.9" fill="#089981"/>
<rect x="1378" y="243.1" width="1" height="6.8" fill="#f23645"/>
<rect x="1375" y="244" width="7" height="3.6" fill="#f23645"/>
<rect x="1388" y="238" width="1" height="8.8" fill="#089981"/>
<rect x="1385" y="240.1" width="7" height="6.7" fill="#089981"/>
<rect x="1397" y="236.1" width="1" height="8.7" fill="#f23645"/>
<rect x="1394" y="237.8" width="7" height="1.4" fill="#f23645"/>
<rect x="1406" y="239.2" width="1" height="16.6" fill="#f23645"/>
<rect x="1403" y="239.2" width="7" height="16.6" fill="#f23645"/>
<rect x="1416" y="250.2" width="1" height="7.5" fill="#089981"/>
<rect x="1413" y="252.9" width="7" height="1.8" fill="#089981"/>
<rect x="1425" y="247" width="1" height="7.7" fill="#089981"/>
<rect x="1422" y="251" width="7" height="1.9" fill="#089981"/>
<rect x="1434" y="246.1" width="1" height="11.6" fill="#f23645"/>
<rect x="1431" y="250.2" width="7" height="7.5" fill="#f23645"/>
<rect x="1444" y="253.1" width="1" height="3.9" fill="#f23645"/>
<rect x="1441" y="255.85" width="7" height="1.2" fill="#f23645"/>
<rect x="1453" y="250.3" width="1" height="9.5" fill="#f23645"/>
<rect x="1450" y="256.75" width="7" height="1.2" fill="#f23645"/>
<rect x="1463" y="254.2" width="1" height="8.5" fill="#f23645"/>
<rect x="1460" y="257.3" width="7" height="5.4" fill="#f23645"/>
<rect x="1472" y="252" width="1" height="10.7" fill="#089981"/>
<rect x="1469" y="253.3" width="7" height="9.4" fill="#089981"/>
<rect x="1481" y="252.2" width="1" height="6.5" fill="#f23645"/>
<rect x="1478" y="252.2" width="7" height="4.3" fill="#f23645"/>
<rect x="1491" y="244.1" width="1" height="15.7" fill="#089981"/>
<rect x="1488" y="247.1" width="7" height="8.8" fill="#089981"/>
<rect x="1500" y="245.2" width="1" height="4.5" fill="#f23645"/>
<rect x="1497" y="246.95" width="7" height="1.2" fill="#f23645"/>
<rect x="1510" y="240.1" width="1" height="11.6" fill="#089981"/>
<rect x="1507" y="240.1" width="7" height="8.7" fill="#089981"/>
<rect x="1519" y="239" width="1" height="6.8" fill="#089981"/>
<rect x="1516" y="239" width="7" height="2.8" fill="#089981"/>
<rect x="1528" y="232.2" width="1" height="10.5" fill="#089981"/>
<rect x="1525" y="234.2" width="7" height="5.6" fill="#089981"/>
<rect x="1538" y="224" width="1" height="12.8" fill="#089981"/>
<rect x="1535" y="225.1" width="7" height="9.7" fill="#089981"/>
<rect x="1547" y="214.2" width="1" height="12.7" fill="#089981"/>
<rect x="1544" y="217" width="7" height="9.9" fill="#089981"/>
<rect x="1557" y="200.1" width="1" height="18.6" fill="#089981"/>
<rect x="1554" y="201" width="7" height="16.8" fill="#089981"/>
<rect x="1566" y="189" width="1" height="13.7" fill="#089981"/>
<rect x="1563" y="194.1" width="7" height="8.6" fill="#089981"/>
<rect x="1575" y="193.2" width="1" height="13.6" fill="#f23645"/>
<rect x="1572" y="194.1" width="7" height="4.5" fill="#f23645"/>
<rect x="1585" y="183" width="1" height="16.7" fill="#089981"/>
<rect x="1582" y="187.1" width="7" height="11.7" fill="#089981"/>
<rect x="1594" y="170.2" width="1" height="17.7" fill="#089981"/>
<rect x="1591" y="173" width="7" height="12.8" fill="#089981"/>
<rect x="1604" y="162.2" width="1" height="13.6" fill="#f23645"/>
<rect x="1601" y="173" width="7" height="2.8" fill="#f23645"/>
<rect x="1613" y="167" width="1" height="10" fill="#089981"/>
<rect x="1610" y="172.1" width="7" height="3.7" fill="#089981"/>
<rect x="1622" y="169.1" width="1" height="9.8" fill="#f23645"/>
<rect x="1619" y="170.2" width="7" height="3.6" fill="#f23645"/>
<rect x="1632" y="167" width="1" height="6.8" fill="#089981"/>
<rect x="1629" y="171.2" width="7" height="2.6" fill="#089981"/>
<rect x="1641" y="159.2" width="1" height="15.7" fill="#089981"/>
<rect x="1638" y="161.1" width="7" height="9.5" fill="#089981"/>
<rect x="1651" y="154.1" width="1" height="7.9" fill="#089981"/>
<rect x="1648" y="158" width="7" height="2.8" fill="#089981"/>
<rect x="1660" y="153.2" width="1" height="16.7" fill="#f23645"/>
<rect x="1657" y="157.1" width="7" height="9.7" fill="#f23645"/>
<rect x="1669" y="162.2" width="1" height="12.7" fill="#f23645"/>
<rect x="1666" y="166.1" width="7" height="5.7" fill="#f23645"/>
<rect x="1679" y="159.2" width="1" height="14.5" fill="#089981"/>
<rect x="1676" y="159.2" width="7" height="12.6" fill="#089981"/>
<rect x="1688" y="141.3" width="1" height="18.6" fill="#089981"/>
<rect x="1685" y="142" width="7" height="16.9" fill="#089981"/>
<rect x="1698" y="130" width="1" height="14.8" fill="#089981"/>
<rect x="1695" y="137" width="7" height="5.7" fill="#089981"/>
<rect x="1707" y="133.1" width="1" height="16.6" fill="#f23645"/>
<rect x="1704" y="137" width="7" height="8.5" fill="#f23645"/>
<rect x="1716" y="138" width="1" height="10.6" fill="#089981"/>
<rect x="1713" y="141" width="7" height="3.8" fill="#089981"/>
<rect x="1726" y="132.1" width="1" height="12.7" fill="#089981"/>
<rect x="1723" y="138" width="7" height="4.7" fill="#089981"/>
<rect x="1735" y="118" width="1" height="19.7" fill="#089981"/>
<rect x="1732" y="118" width="7" height="19.7" fill="#089981"/>
<rect x="1745" y="107" width="1" height="21.9" fill="#089981"/>
<rect x="1742" y="111" width="7" height="7.7" fill="#089981"/>
<rect x="1754" y="100" width="1" height="11.7" fill="#089981"/>
<rect x="1751" y="108.9" width="7" height="1.8" fill="#089981"/>
<rect x="1763" y="100" width="1" height="21.8" fill="#f23645"/>
<rect x="1760" y="108.9" width="7" height="2.8" fill="#f23645"/>
<rect x="1773" y="102.2" width="1" height="13.6" fill="#089981"/>
<rect x="1770" y="103" width="7" height="8.7" fill="#089981"/>
<rect x="1782" y="80.2" width="1" height="22.6" fill="#089981"/>
<rect x="1779" y="82" width="7" height="20.8" fill="#089981"/>
<rect x="1792" y="74.1" width="1" height="13.7" fill="#089981"/>
<rect x="1789" y="76" width="7" height="7" fill="#089981"/>
<rect x="1801" y="55.1" width="1" height="20.5" fill="#089981"/>
<rect x="1798" y="60" width="7" height="15.6" fill="#089981"/>
<rect x="1810" y="59.1" width="1" height="11.8" fill="#f23645"/>
<rect x="1807" y="61.1" width="7" height="3.7" fill="#f23645"/>
<polyline points="35.01,447.12 44.41,446.54 53.8,445.91 63.2,444.9 72.59,443.82 81.99,442.82 91.39,441.66 100.78,440.89 110.18,439.88 119.57,438.96 128.97,437.68 138.36,436.39 147.76,435.01 157.16,433.37 166.55,431.53 175.95,429.9 185.34,428.26 194.74,426.18 204.14,424.33 213.53,422.45 222.93,420.36 232.32,418.9 241.72,417.26 251.11,415.3 260.51,413.46 269.91,411.61 279.3,409.88 288.7,408.01 298.09,406.67 307.49,405.31 316.89,404.47 326.28,403.9 335.68,402.93 345.07,401.73 354.47,400.56 363.86,399.56 373.26,398.56 382.66,397.88 392.05,396.92 401.45,395.79 410.84,394.08 420.24,392.47 429.64,390.78 439.03,388.81 448.43,386.74 457.82,384.83 467.22,383.19 476.61,381.77 486.01,380.26 495.41,378.84 504.8,377.05 514.2,375.03 523.59,372.69 532.99,370.54 542.39,368.26 551.78,366.29 561.18,365.21 570.57,364.8 579.97,364.38 589.36,362.89 598.76,360.43 608.16,357.41 617.55,354.79 626.95,352.06 636.34,348.19 645.74,344.7 655.14,340.25 664.53,336.48 673.93,333.87 683.32,330.67 692.72,327.93 702.11,325 711.51,322.53 720.91,320.47 730.3,319.04 739.7,317.59 749.09,315.18 758.49,311.81 767.89,309.34 777.28,307.6 786.68,305.67 796.07,304.86 805.47,303.86 814.86,303.74 824.26,302.9 833.66,302.5 843.05,301.82 852.45,300.5 861.84,298.96 871.24,297.74 880.64,295.84 890.03,294.23 899.43,293.13 908.82,292.22 918.22,291.01 927.61,290.15 937.01,288.31 946.41,286.88 955.8,285.25 965.2,283.94 974.59,283.16 983.99,282.19 993.39,281.33 1002.78,280.11 1012.18,278.59 1021.57,276.61 1030.97,275.29 1040.36,273.95 1049.76,272.89 1059.16,271.89 1068.55,270.93 1077.95,270 1087.34,269.62 1096.74,269.09 1106.14,268.69 1115.53,268.9 1124.93,268.76 1134.32,268.24 1143.72,267.53 1153.11,267.19 1162.51,266.72 1171.91,266.3 1181.3,266.29 1190.7,266.14 1200.09,265.87 1209.49,265.25 1218.89,264.81 1228.28,264.58 1237.68,264.09 1247.07,263.76 1256.47,263.27 1265.86,262.3 1275.26,261 1284.66,260.26 1294.05,259.73 1303.45,259.58 1312.84,259.66 1322.24,259.61 1331.64,260.14 1341.03,260.46 1350.43,259.99 1359.82,259.41 1369.22,258.77 1378.61,258.31 1388.01,257.56 1397.41,256.81 1406.8,256.74 1416.2,256.56 1425.59,256.31 1434.99,256.33 1444.39,256.32 1453.78,256.35 1463.18,256.57 1472.57,256.41 1481.97,256.38 1491.36,255.99 1500.76,255.64 1510.16,255 1519.55,254.34 1528.95,253.52 1538.34,252.38 1547.74,250.96 1557.14,248.97 1566.53,246.78 1575.93,244.86 1585.32,242.57 1594.72,239.81 1604.11,237.27 1613.51,234.68 1622.91,232.26 1632.3,229.83 1641.7,227.11 1651.09,224.37 1660.49,222.08 1669.89,220.07 1679.28,217.66 1688.68,214.66 1698.07,211.58 1707.47,208.96 1716.86,206.26 1726.26,203.55 1735.66,200.17 1745.05,196.64 1754.45,193.17 1763.84,189.94 1773.24,186.5 1782.64,182.37 1792.03,178.17 1801.43,173.5 1810.82,169.21" fill="none" stroke="#2962ff" stroke-width="1.7" stroke-linejoin="round"/>
</g>
<line x1="0" y1="64.5" x2="1821" y2="64.5" stroke="#f23645" stroke-width="1" stroke-dasharray="1 2"/>
<rect x="0" y="433" width="1919" height="2" fill="#e4e4e4"/>
<text x="1834.6" y="20.3" font-size="16" fill="#131722" font-weight="normal" text-anchor="start" textLength="72" lengthAdjust="spacingAndGlyphs" stroke="#131722" stroke-width="0.3">4,200.000</text>
<text x="1834.6" y="131.73" font-size="16" fill="#131722" font-weight="normal" text-anchor="start" textLength="72" lengthAdjust="spacingAndGlyphs" stroke="#131722" stroke-width="0.3">3,800.000</text>
<text x="1834.6" y="187.44" font-size="16" fill="#131722" font-weight="normal" text-anchor="start" textLength="72" lengthAdjust="spacingAndGlyphs" stroke="#131722" stroke-width="0.3">3,600.000</text>
<text x="1834.6" y="243.16" font-size="16" fill="#131722" font-weight="normal" text-anchor="start" textLength="72" lengthAdjust="spacingAndGlyphs" stroke="#131722" stroke-width="0.3">3,400.000</text>
<text x="1834.6" y="298.87" font-size="16" fill="#131722" font-weight="normal" text-anchor="start" textLength="72" lengthAdjust="spacingAndGlyphs" stroke="#131722" stroke-width="0.3">3,200.000</text>
<text x="1834.6" y="354.59" font-size="16" fill="#131722" font-weight="normal" text-anchor="start" textLength="72" lengthAdjust="spacingAndGlyphs" stroke="#131722" stroke-width="0.3">3,000.000</text>
<text x="1834.6" y="410.3" font-size="16" fill="#131722" font-weight="normal" text-anchor="start" textLength="72" lengthAdjust="spacingAndGlyphs" stroke="#131722" stroke-width="0.3">2,800.000</text>
<text x="1834" y="479.9" font-size="16" fill="#131722" font-weight="normal" text-anchor="start" textLength="41" lengthAdjust="spacingAndGlyphs" stroke="#131722" stroke-width="0.3">80.00</text>
<text x="1834" y="552.3" font-size="16" fill="#131722" font-weight="normal" text-anchor="start" textLength="41" lengthAdjust="spacingAndGlyphs" stroke="#131722" stroke-width="0.3">60.00</text>
<text x="1834" y="624.7" font-size="16" fill="#131722" font-weight="normal" text-anchor="start" textLength="41" lengthAdjust="spacingAndGlyphs" stroke="#131722" stroke-width="0.3">40.00</text>
<text x="147.76" y="693.8" font-size="16" fill="#131722" font-weight="normal" text-anchor="middle" textLength="29.22" lengthAdjust="spacingAndGlyphs" stroke="#131722" stroke-width="0.45">Feb</text>
<text x="335.68" y="693.8" font-size="16" fill="#131722" font-weight="normal" text-anchor="middle" textLength="29.21" lengthAdjust="spacingAndGlyphs" stroke="#131722" stroke-width="0.45">Mar</text>
<text x="532.99" y="693.8" font-size="16" fill="#131722" font-weight="normal" text-anchor="middle" textLength="26.39" lengthAdjust="spacingAndGlyphs" stroke="#131722" stroke-width="0.45">Apr</text>
<text x="730.3" y="693.8" font-size="16" fill="#131722" font-weight="normal" text-anchor="middle" textLength="32.04" lengthAdjust="spacingAndGlyphs" stroke="#131722" stroke-width="0.45">May</text>
<text x="937.01" y="693.8" font-size="16" fill="#131722" font-weight="normal" text-anchor="middle" textLength="27.34" lengthAdjust="spacingAndGlyphs" stroke="#131722" stroke-width="0.45">Jun</text>
<text x="1134.32" y="693.8" font-size="16" fill="#131722" font-weight="normal" text-anchor="middle" textLength="21.68" lengthAdjust="spacingAndGlyphs" stroke="#131722" stroke-width="0.45">Jul</text>
<text x="1350.43" y="693.8" font-size="16" fill="#131722" font-weight="normal" text-anchor="middle" textLength="30.18" lengthAdjust="spacingAndGlyphs" stroke="#131722" stroke-width="0.45">Aug</text>
<text x="1547.74" y="693.8" font-size="16" fill="#131722" font-weight="normal" text-anchor="middle" textLength="30.18" lengthAdjust="spacingAndGlyphs" stroke="#131722" stroke-width="0.45">Sep</text>
<text x="1754.45" y="693.8" font-size="16" fill="#131722" font-weight="normal" text-anchor="middle" textLength="26.38" lengthAdjust="spacingAndGlyphs" stroke="#131722" stroke-width="0.45">Oct</text>
<path d="M1822,53 H1911 a3,3 0 0 1 3,3 V92 a3,3 0 0 1 -3,3 H1822 Z" fill="#f23645"/>
<text x="1834.3" y="68.7" font-size="16" fill="#ffffff" font-weight="bold" text-anchor="start" textLength="74" lengthAdjust="spacingAndGlyphs">4,025.780</text>
<text x="1835.5" y="87.8" font-size="16" fill="#fcd4d8" font-weight="bold" text-anchor="start" textLength="62.5" lengthAdjust="spacingAndGlyphs">13:41:31</text>
<path d="M1822,159 H1911 a3,3 0 0 1 3,3 V179 a3,3 0 0 1 -3,3 H1822 Z" fill="#2962ff"/>
<text x="1834.8" y="174.7" font-size="16" fill="#ffffff" font-weight="bold" text-anchor="start" textLength="73" lengthAdjust="spacingAndGlyphs">3,646.969</text>
<path d="M1822,448 H1879 a3,3 0 0 1 3,3 V468 a3,3 0 0 1 -3,3 H1822 Z" fill="#7e57c2"/>
<text x="1834.7" y="465.6" font-size="16" fill="#ffffff" font-weight="bold" text-anchor="start" textLength="41" lengthAdjust="spacingAndGlyphs">83.92</text>
<path d="M1822,472 H1879 a3,3 0 0 1 3,3 V492 a3,3 0 0 1 -3,3 H1822 Z" fill="#fdd835"/>
<text x="1835.3" y="489.6" font-size="16" fill="#131722" font-weight="bold" text-anchor="start" textLength="39" lengthAdjust="spacingAndGlyphs">80.01</text>
<polygon points="1860.3,690.5 1865.8,681.3 1876.8,681.3 1882.3,690.5 1876.8,699.7 1865.8,699.7" fill="none" stroke="#131722" stroke-width="1.6" stroke-linejoin="round"/>
<circle cx="1871.3" cy="690.5" r="3.6" fill="none" stroke="#131722" stroke-width="1.6"/>
<g clip-path="url(#mainclip)"><path d="M1814.87,399.66 A14.45,14.45 0 1 0 1821.8,422.3" fill="none" stroke="#9c27b0" stroke-width="2.1"/><circle cx="1821.3" cy="402.8" r="4.2" fill="#f23645"/><path d="M1813.3,405.2 L1815.5,407.2 L1809.8,412.0 L1818.0,412.1 L1806.9,421.9 L1804.7,420.1 L1810.4,414.4 L1803.0,414.3 Z" fill="#9c27b0"/></g>
<circle cx="26.5" cy="21.5" r="13.6" fill="#d99e0b"/>
<path d="M23.6,14.9 H29.4 L31.6,19.4 H21.4 Z M18.9,21.6 H24.6 L27,26.1 H16 Z M28.5,21.6 H34.3 L37,26.1 H26 Z" fill="#ffffff"/>
<text x="45.4" y="29.8" font-size="23.2" fill="#131722" font-weight="normal" text-anchor="start" textLength="50.2" lengthAdjust="spacingAndGlyphs">Gold</text>
<text x="102.7" y="29.8" font-size="23.2" fill="#131722" font-weight="normal" text-anchor="start" textLength="47.3" lengthAdjust="spacingAndGlyphs">Spot</text>
<text x="159" y="29.8" font-size="23.2" fill="#131722" font-weight="normal" text-anchor="start">/</text>
<text x="177.3" y="29.8" font-size="23.2" fill="#131722" font-weight="normal" text-anchor="start" textLength="43" lengthAdjust="spacingAndGlyphs">U.S.</text>
<text x="229.4" y="29.8" font-size="23.2" fill="#131722" font-weight="normal" text-anchor="start" textLength="64.1" lengthAdjust="spacingAndGlyphs">Dollar</text>
<circle cx="301.95" cy="22.3" r="1.9" fill="#131722"/>
<text x="311.5" y="29.8" font-size="23.2" fill="#131722" font-weight="normal" text-anchor="start" textLength="26.7" lengthAdjust="spacingAndGlyphs">1D</text>
<circle cx="347" cy="22.3" r="1.9" fill="#131722"/>
<text x="355.8" y="29.8" font-size="23.2" fill="#131722" font-weight="normal" text-anchor="start" textLength="75.6" lengthAdjust="spacingAndGlyphs">OANDA</text>
<path d="M456.4,8 H473 V35 H456.4 A13.5,13.5 0 0 1 456.4,8 Z" fill="#dff2ef"/>
<path d="M473,8 H489.5 A13.5,13.5 0 0 1 489.5,35 H473 Z" fill="#f1a7c1"/>
<circle cx="459" cy="21.3" r="6" fill="#089981"/>
<path d="M480.6,20.2 C482.6,17.4 484.6,17.6 486.2,18.7 S489.8,20 491.6,17.1 M480.6,25.6 C482.6,22.8 484.6,23 486.2,24.1 S489.8,25.4 491.6,22.5" fill="none" stroke="#e0115f" stroke-width="2.3" stroke-linecap="round"/>
<text x="514.9" y="27.8" font-size="19.3" fill="#131722" font-weight="normal" text-anchor="start" textLength="12.9" lengthAdjust="spacingAndGlyphs">O</text>
<text x="529" y="27.8" font-size="19.3" fill="#f23645" font-weight="normal" text-anchor="start" textLength="85.9" lengthAdjust="spacingAndGlyphs">4,036.775</text>
<text x="624.6" y="27.8" font-size="19.3" fill="#131722" font-weight="normal" text-anchor="start" textLength="12.2" lengthAdjust="spacingAndGlyphs">H</text>
<text x="638" y="27.8" font-size="19.3" fill="#f23645" font-weight="normal" text-anchor="start" textLength="86.9" lengthAdjust="spacingAndGlyphs">4,043.700</text>
<text x="734" y="27.8" font-size="19.3" fill="#131722" font-weight="normal" text-anchor="start" textLength="9.6" lengthAdjust="spacingAndGlyphs">L</text>
<text x="744.8" y="27.8" font-size="19.3" fill="#f23645" font-weight="normal" text-anchor="start" textLength="86.3" lengthAdjust="spacingAndGlyphs">4,001.330</text>
<text x="840.1" y="27.8" font-size="19.3" fill="#131722" font-weight="normal" text-anchor="start" textLength="11.4" lengthAdjust="spacingAndGlyphs">C</text>
<text x="852.7" y="27.8" font-size="19.3" fill="#f23645" font-weight="normal" text-anchor="start" textLength="86.3" lengthAdjust="spacingAndGlyphs">4,025.780</text>
<text x="948.2" y="27.8" font-size="19.3" fill="#f23645" font-weight="normal" text-anchor="start" textLength="68.2" lengthAdjust="spacingAndGlyphs">−16.120</text>
<text x="1022.7" y="27.8" font-size="19.3" fill="#f23645" font-weight="normal" text-anchor="start" textLength="73" lengthAdjust="spacingAndGlyphs">(−0.40%)</text>
<rect x="12.75" y="45.75" width="115.5" height="49.5" rx="6.5" fill="#ffffff" stroke="#f23645" stroke-width="1.5"/>
<rect x="182.75" y="45.75" width="116.5" height="49.5" rx="6.5" fill="#ffffff" stroke="#2962ff" stroke-width="1.5"/>
<text x="28.2" y="66" font-size="18" fill="#f23645" font-weight="normal" text-anchor="start" textLength="74.2" lengthAdjust="spacingAndGlyphs" stroke="#f23645" stroke-width="0.7">4,025.91</text>
<text x="105.4" y="64" font-size="15" fill="#f23645" font-weight="normal" text-anchor="start" stroke="#f23645" stroke-width="0.5">0</text>
<text x="52.8" y="85.8" font-size="16.5" fill="#f23645" font-weight="normal" text-anchor="start" textLength="36" lengthAdjust="spacingAndGlyphs" stroke="#f23645" stroke-width="0.35">SELL</text>
<text x="141" y="75.9" font-size="15.2" fill="#131722" font-weight="normal" text-anchor="start" textLength="30" lengthAdjust="spacingAndGlyphs">65.0</text>
<text x="198.7" y="66" font-size="18" fill="#2962ff" font-weight="normal" text-anchor="start" textLength="75" lengthAdjust="spacingAndGlyphs" stroke="#2962ff" stroke-width="0.7">4,026.56</text>
<text x="275" y="64" font-size="15" fill="#2962ff" font-weight="normal" text-anchor="start" stroke="#2962ff" stroke-width="0.5">0</text>
<text x="225.6" y="85.8" font-size="16.5" fill="#2962ff" font-weight="normal" text-anchor="start" textLength="30.8" lengthAdjust="spacingAndGlyphs" stroke="#2962ff" stroke-width="0.35">BUY</text>
<text x="12.5" y="127" font-size="19.4" fill="#131722" font-weight="normal" text-anchor="start" textLength="36" lengthAdjust="spacingAndGlyphs">EMA</text>
<text x="53.8" y="127" font-size="19.4" fill="#6a6d78" font-weight="normal" text-anchor="start" textLength="70.5" lengthAdjust="spacingAndGlyphs">50 close</text>
<circle cx="149.6" cy="120.6" r="13.3" fill="#e6dcfd"/>
<path d="M142.4,118.3 A7.2,7.2 0 0 1 156,117.7 M156.2,122.3 A7.2,7.2 0 0 1 142.6,122.9" fill="none" stroke="#6a1ff5" stroke-width="2"/>
<path d="M153,118 L159.8,117.2 L156.8,121.6 Z M145.6,122.6 L138.8,123.4 L141.8,119 Z" fill="#6a1ff5"/>
<text x="176" y="127" font-size="19.3" fill="#2962ff" font-weight="normal" text-anchor="start" textLength="85" lengthAdjust="spacingAndGlyphs">3,646.969</text>
<rect x="12.9" y="143.9" width="41.3" height="28.2" rx="4.5" fill="#ffffff" stroke="#e0e0e0" stroke-width="1.2"/>
<path d="M27.6,161.6 L33.3,155.8 L39.0,161.6" fill="none" stroke="#131722" stroke-width="1.8" stroke-linecap="round"/>
<text x="12.4" y="466" font-size="19.2" fill="#131722" font-weight="normal" text-anchor="start" textLength="26" lengthAdjust="spacingAndGlyphs">RSI</text>
<text x="44" y="466" font-size="19.2" fill="#6a6d78" font-weight="normal" text-anchor="start" textLength="70.3" lengthAdjust="spacingAndGlyphs">14 close</text>
<circle cx="140.6" cy="459.4" r="13.3" fill="#e6dcfd"/>
<path d="M133.4,457.1 A7.2,7.2 0 0 1 147,456.5 M147.2,461.1 A7.2,7.2 0 0 1 133.6,461.7" fill="none" stroke="#6a1ff5" stroke-width="2"/>
<path d="M144,456.8 L150.8,456 L147.8,460.4 Z M136.6,461.4 L129.8,462.2 L132.8,457.8 Z" fill="#6a1ff5"/>
<text x="165.5" y="466" font-size="19.2" fill="#7e57c2" font-weight="normal" text-anchor="start" textLength="47.3" lengthAdjust="spacingAndGlyphs">83.92</text>
<text x="222.4" y="466" font-size="19.2" fill="#f7c42f" font-weight="normal" text-anchor="start" textLength="46.6" lengthAdjust="spacingAndGlyphs">80.01</text>
<g fill="#ffffff" stroke="#ffffff" stroke-width="5.4" stroke-linejoin="miter"><path d="M18,624.5 H36.3 V646.9 H26.7 V633.2 H18 Z"/><circle cx="43.6" cy="629" r="4.3"/><path d="M50.4,624.5 H62.8 L54.2,646.9 H43.4 Z"/></g>
<g fill="#121212"><path d="M18,624.5 H36.3 V646.9 H26.7 V633.2 H18 Z"/><circle cx="43.6" cy="629" r="4.3"/><path d="M50.4,624.5 H62.8 L54.2,646.9 H43.4 Z"/></g>
<text x="72.6" y="646.9" font-size="31" font-weight="bold" fill="#121212" stroke="#ffffff" stroke-width="5" stroke-linejoin="round" paint-order="stroke" textLength="183" lengthAdjust="spacingAndGlyphs">TradingView</text>
</svg>
</body></html>
